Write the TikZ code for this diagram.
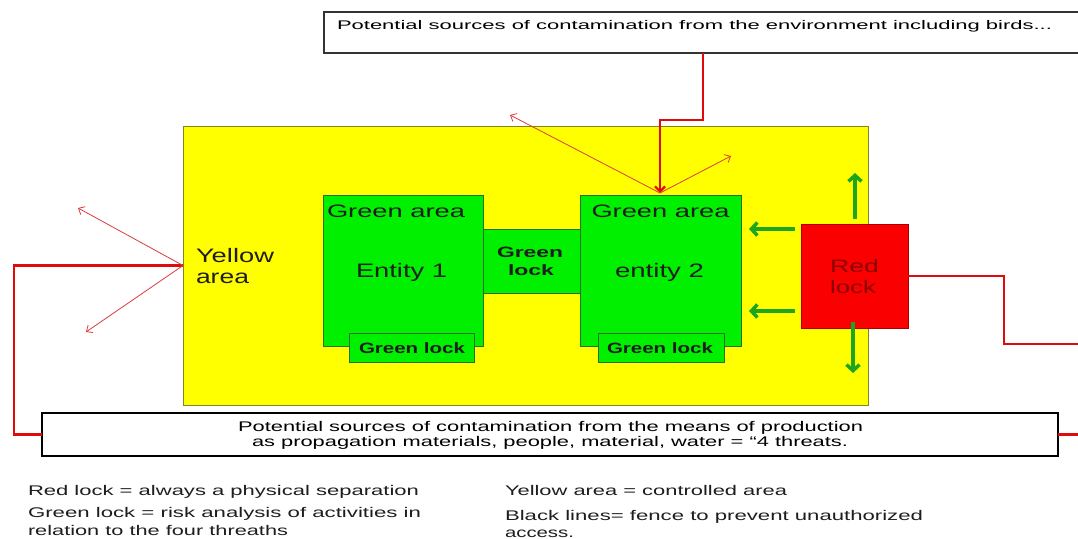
\documentclass[tikz,border=0pt]{standalone}
\usepackage{fontspec}
\setmainfont{Liberation Sans}
\usetikzlibrary{arrows.meta}
\definecolor{yellowc}{RGB}{255,255,0}
\definecolor{olivec}{RGB}{130,130,40}
\definecolor{greenc}{RGB}{0,240,0}
\definecolor{greenedge}{RGB}{40,110,40}
\definecolor{redc}{RGB}{250,0,0}
\definecolor{rededge}{RGB}{170,0,0}
\definecolor{linered}{RGB}{225,10,10}
\definecolor{arrowred}{RGB}{220,60,60}
\definecolor{arrowgreen}{RGB}{30,165,30}
\definecolor{textdark}{RGB}{30,30,30}
\definecolor{textred}{RGB}{140,0,0}
\newcommand\tx[3]{\resizebox{#1pt}{\height}{\fontsize{#2pt}{#2pt}\selectfont #3}}
\begin{document}
\begin{tikzpicture}[x=1pt,y=-1pt,
  box/.style={inner sep=0pt, outer sep=0pt, anchor=north west},
  txt/.style={anchor=base west, inner sep=0pt, outer sep=0pt, text=textdark},
  greenbox/.style={box, fill=greenc, draw=greenedge, line width=0.8pt},
  redline/.style={draw=linered, line width=2.2pt},
  thinarrow/.style={draw=arrowred, line width=0.8pt, -{Straight Barb[length=5pt,width=9pt]}},
  greenarrow/.style={draw=arrowgreen, line width=3.5pt, -{Straight Barb[length=6pt,width=13pt]}}]
\useasboundingbox (0,0) rectangle (1078,538);
\clip (0,0) rectangle (1078,538);
\fill[white] (0,0) rectangle (1078,538);

% boxes
\node[box, draw=black!80, fill=white, line width=1.6pt, minimum width=780pt, minimum height=41pt] (top) at (324,12) {};
\node[box, fill=yellowc, draw=olivec, line width=1pt, minimum width=685pt, minimum height=279pt] (yellow) at (183,126) {};
\node[greenbox, minimum width=160pt, minimum height=151pt] (ga1) at (323,195) {};
\node[greenbox, minimum width=161pt, minimum height=151pt] (ga2) at (580,195) {};
\node[greenbox, minimum width=97pt, minimum height=64pt] (mid) at (483,229) {};
\node[greenbox, minimum width=125pt, minimum height=29pt] (gl1) at (349,333) {};
\node[greenbox, minimum width=126pt, minimum height=29pt] (gl2) at (598,333) {};
\node[box, fill=redc, draw=rededge, line width=0.8pt, minimum width=107pt, minimum height=104pt] (red) at (801,224) {};
\node[box, draw=black, fill=white, line width=2.4pt, minimum width=1016pt, minimum height=43pt] (bottom) at (42,413) {};

% coordinates
\coordinate (rt1) at (703,120);
\coordinate (rt2) at (660,120);
\coordinate (lc) at (14,300);
\coordinate (rc) at (1004,300);
\coordinate (rend) at (1090,344);
\coordinate (bend) at (1090,435);
\coordinate (a1) at (78,208);
\coordinate (a2) at (86,332);
\coordinate (hit) at (660,193);
\coordinate (a3) at (510,115);
\coordinate (a4) at (731,156);
\coordinate (g1s) at (795,229);
\coordinate (g1e) at (749,229);
\coordinate (g2s) at (795,311);
\coordinate (g2e) at (749,311);
\coordinate (g3s) at (855,219);
\coordinate (g3e) at (855,173);
\coordinate (g4s) at (853,322);
\coordinate (g4e) at (853,373);

% red fence lines
\draw[redline, -{Straight Barb[length=5pt,width=10pt]}] (top.south -| rt1) -- (rt1) -- (rt2) -- (hit);
\draw[redline] (yellow.west) -| (lc) |- (bottom.west);
\draw[redline] (red.east) -| (rc) |- (rend);
\draw[redline] (bottom.east) -- (bottom.east -| bend);

% thin arrows
\draw[thinarrow] (yellow.west) -- (a1);
\draw[thinarrow] (yellow.west) -- (a2);
\draw[thinarrow] (hit) -- (a3);
\draw[thinarrow] (hit) -- (a4);

% green arrows
\draw[greenarrow] (g1s) -- (g1e);
\draw[greenarrow] (g2s) -- (g2e);
\draw[greenarrow] (g3s) -- (g3e);
\draw[greenarrow] (g4s) -- (g4e);

% texts
\node[txt, text=black] (ttop) at (337,29) {\tx{715}{12.5}{Potential sources of contamination from the environment including birds...}};
\node[txt] (yl1) at (196,262) {\tx{78}{19.5}{Yellow}};
\node[txt] (yl2) at (196,283) {\tx{53}{19.5}{area}};
\node[txt] (ga1t) at (327,217) {\tx{138}{18}{Green area}};
\node[txt] (e1) at (356,277) {\tx{91}{19.5}{Entity 1}};
\node[txt] (ga2t) at (591.5,217) {\tx{138}{18}{Green area}};
\node[txt] (e2) at (615,277) {\tx{89}{19.5}{entity 2}};
\node[txt] (mid1) at (497,257) {\tx{66}{15}{\bfseries Green}};
\node[txt] (mid2) at (508,275) {\tx{46}{15}{\bfseries lock}};
\node[txt] (gl1t) at (359,353) {\tx{106}{15}{\bfseries Green lock}};
\node[txt] (gl2t) at (607,353) {\tx{106}{15}{\bfseries Green lock}};
\node[txt, text=textred] (r1) at (830,272) {\tx{49}{18}{Red}};
\node[txt, text=textred] (r2) at (830,293) {\tx{46}{18}{lock}};
\node[txt, text=black] (b1) at (238,431) {\tx{625}{14}{Potential sources of contamination from the means of production}};
\node[txt, text=black] (b2) at (252,446) {\tx{596}{14}{as propagation materials, people, material, water = “4 threats.}};
\node[txt] (l1) at (28,495) {\tx{391}{14}{Red lock = always a physical separation}};
\node[txt] (l2) at (28,517) {\tx{393}{14}{Green lock = risk analysis of activities in}};
\node[txt] (l3) at (28,535) {\tx{260}{14}{relation to the four threaths}};
\node[txt] (r1l) at (505,495) {\tx{282}{14}{Yellow area = controlled area}};
\node[txt] (r2l) at (505,520) {\tx{418}{14}{Black lines= fence to prevent unauthorized}};
\node[txt] (r3l) at (505,537) {\tx{69}{14}{access.}};
\end{tikzpicture}
\end{document}
